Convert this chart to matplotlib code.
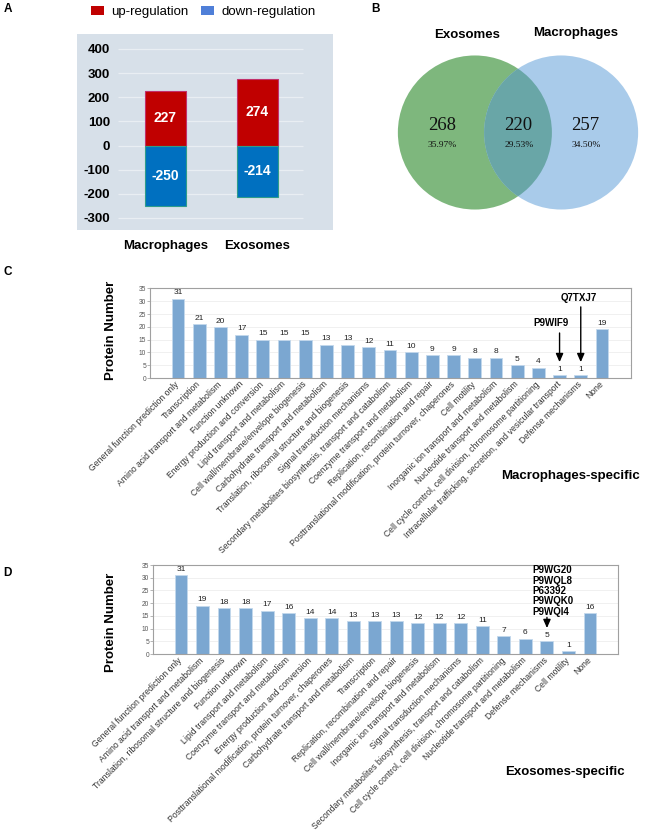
import matplotlib
matplotlib.use('Agg')
import matplotlib.pyplot as plt
from matplotlib.patches import Patch, Circle
import numpy as np

plt.rcParams['font.family'] = ['Liberation Sans', 'DejaVu Sans']

# ---------------- data ----------------
groups_a = ['Macrophages', 'Exosomes']
up_reg = [227, 274]
down_reg = [-250, -214]
yticks_a = [400, 300, 200, 100, 0, -100, -200, -300]

venn_names = ['Exosomes', 'Macrophages']
venn_counts = [268, 220, 257]   # Exosomes only, shared, Macrophages only

mac_categories = [
    'General function prediction only', 'Transcription',
    'Amino acid transport and metabolism', 'Function unknown',
    'Energy production and conversion', 'Lipid transport and metabolism',
    'Cell wall/membrane/envelope biogenesis', 'Carbohydrate transport and metabolism',
    'Translation, ribosomal structure and biogenesis', 'Signal transduction mechanisms',
    'Secondary metabolites biosynthesis, transport and catabolism',
    'Coenzyme transport and metabolism', 'Replication, recombination and repair',
    'Posttranslational modification, protein turnover, chaperones', 'Cell motility',
    'Inorganic ion transport and metabolism', 'Nucleotide transport and metabolism',
    'Cell cycle control, cell division, chromosome partitioning',
    'Intracellular trafficking, secretion, and vesicular transport',
    'Defense mechanisms', 'None']
mac_counts = [31, 21, 20, 17, 15, 15, 15, 13, 13, 12, 11, 10, 9, 9, 8, 8, 5, 4, 1, 1, 19]

exo_categories = [
    'General function prediction only', 'Amino acid transport and metabolism',
    'Translation, ribosomal structure and biogenesis', 'Function unknown',
    'Lipid transport and metabolism', 'Coenzyme transport and metabolism',
    'Energy production and conversion',
    'Posttranslational modification, protein turnover, chaperones',
    'Carbohydrate transport and metabolism', 'Transcription',
    'Replication, recombination and repair', 'Cell wall/membrane/envelope biogenesis',
    'Inorganic ion transport and metabolism', 'Signal transduction mechanisms',
    'Secondary metabolites biosynthesis, transport and catabolism',
    'Cell cycle control, cell division, chromosome partitioning',
    'Nucleotide transport and metabolism', 'Defense mechanisms', 'Cell motility', 'None']
exo_counts = [31, 19, 18, 18, 17, 16, 14, 14, 13, 13, 13, 12, 12, 12, 11, 7, 6, 5, 1, 16]
yticks_bar = [0, 5, 10, 15, 20, 25, 30, 35]

mac_annot = {'P9WIF9': 'Intracellular trafficking, secretion, and vesicular transport',
             'Q7TXJ7': 'Defense mechanisms'}
exo_annot_ids = ['P9WG20', 'P9WQL8', 'P63392', 'P9WQK0', 'P9WQI4']
exo_annot_cat = 'Defense mechanisms'

# ---------------- figure ----------------
W, H = 649, 830
fig = plt.figure(figsize=(W / 100, H / 100), dpi=100)
fig.patch.set_facecolor('white')


def ax_px(x0, y0, x1, y1):
    return fig.add_axes([x0 / W, 1 - y1 / H, (x1 - x0) / W, (y1 - y0) / H])


def ftext(x, y, s, **kw):
    return fig.text(x / W, 1 - y / H, s, **kw)


# panel letters
for letter, (lx, ly) in zip('ABCD', [(8, 9), (376, 9), (8, 272), (7, 573)]):
    ftext(lx, ly, letter, ha='center', va='center', fontsize=8.5, fontweight='bold')

# ---------------- Panel A ----------------
axA = ax_px(77, 34, 333, 230)
axA.set_facecolor('#d7e0e9')
xa = np.arange(len(groups_a))
axA.hlines(yticks_a, (118 - 77) / 256, (303 - 77) / 256, transform=axA.get_yaxis_transform(),
           color='#e9eef3', lw=0.9, zorder=1)
axA.bar(xa, up_reg, width=0.446, color='#c00000', edgecolor='#c2306a', lw=0.8, zorder=2)
axA.bar(xa, down_reg, width=0.446, color='#0070c0', edgecolor='#2f9c8a', lw=0.8, zorder=2)
for i in xa:
    axA.text(i, up_reg[i] / 2, str(up_reg[i]), ha='center', va='center', color='white',
             fontsize=10, fontweight='bold', zorder=3)
    axA.text(i, down_reg[i] / 2, str(down_reg[i]), ha='center', va='center', color='white',
             fontsize=10, fontweight='bold', zorder=3)
axA.set_xlim(-0.962, 1.821)
axA.set_ylim(-350, 462)
axA.set_yticks(yticks_a)
axA.set_yticklabels([str(v) for v in yticks_a], fontsize=9.5, fontweight='bold')
axA.tick_params(axis='y', length=0, pad=-23.8)
axA.set_xticks(xa)
axA.set_xticklabels(groups_a, fontsize=9.5, fontweight='bold')
axA.tick_params(axis='x', length=0, pad=7)
for s in axA.spines.values():
    s.set_visible(False)

fig.legend(handles=[Patch(facecolor='#c00000'), Patch(facecolor='#4f7fd8')],
           labels=['up-regulation', 'down-regulation'], loc='upper left',
           bbox_to_anchor=(91 / W, 1 - 6 / H), ncol=2, frameon=False, fontsize=9.5,
           handlelength=1.0, handleheight=0.6, handletextpad=0.55, columnspacing=0.95,
           borderpad=0, borderaxespad=0)

# ---------------- Panel B ----------------
axB = ax_px(388, 50, 648, 215)
axB.set_xlim(-1.688, 1.688)
axB.set_ylim(-1.071, 1.071)
axB.axis('off')
g = Circle((-0.56, 0), 1.0, facecolor='#7eb77d', edgecolor='none')
b = Circle((0.56, 0), 1.0, facecolor='#a9cbea', edgecolor='none')
axB.add_patch(g)
axB.add_patch(b)
ov = Circle((-0.56, 0), 1.0, facecolor='#69a6a7', edgecolor='none')
axB.add_patch(ov)
ov.set_clip_path(b)
total = sum(venn_counts)
for xpos, cnt in zip([-0.99, 0.0, 0.87], venn_counts):
    axB.text(xpos, 0.097, str(cnt), ha='center', va='center', fontsize=13.5,
             family='Liberation Serif', color='#111111')
    axB.text(xpos + 0.01, -0.162, '%.2f%%' % (cnt / total * 100), ha='center', va='center',
             fontsize=6.8, family='Liberation Serif', color='#111111')
ftext(467, 35, venn_names[0], ha='center', va='center', fontsize=9.5, fontweight='bold')
ftext(576, 33, venn_names[1], ha='center', va='center', fontsize=9.5, fontweight='bold')


# ---------------- Panels C, D ----------------
def bar_panel(ax, cats, counts, xlim):
    x = np.arange(len(cats))
    ax.set_axisbelow(True)
    ax.yaxis.grid(True, color='#eeeeee', lw=0.6)
    ax.bar(x, counts, width=0.6, color='#7ba7d1', edgecolor='#c3d8ec', lw=0.6)
    for i, v in zip(x, counts):
        ax.text(i, v + 0.9, str(v), ha='center', va='bottom', fontsize=6, color='#222222')
    ax.set_xlim(*xlim)
    ax.set_ylim(0, 35)
    ax.set_yticks(yticks_bar)
    ax.set_yticklabels([str(v) for v in yticks_bar], fontsize=4.8, color='#555555')
    ax.tick_params(axis='y', length=2, width=0.5, color='#999999', pad=0.8)
    ax.set_xticks(x)
    ax.set_xticklabels(cats, rotation=45, ha='right', va='center', rotation_mode='anchor',
                       fontsize=6.2, color='#333333')
    ax.tick_params(axis='x', length=0, pad=3.5)
    for s in ax.spines.values():
        s.set_color('#a0a0a0')
        s.set_linewidth(0.8)
    return x


axC = ax_px(150, 288.5, 631, 378)
bar_panel(axC, mac_categories, mac_counts, (-1.32, 21.37))
for name, dx, ytxt, ystart in [('P9WIF9', -0.4, 21.6, 17.6), ('Q7TXJ7', -0.1, 31.4, 27.8)]:
    idx = mac_categories.index(mac_annot[name])
    v = mac_counts[idx]
    axC.text(idx + dx, ytxt, name, ha='center', va='center', fontsize=7, fontweight='bold')
    axC.annotate('', xy=(idx, v + 5.2), xytext=(idx, ystart),
                 arrowprops=dict(arrowstyle='-|>,head_length=0.5,head_width=0.22',
                                 color='black', lw=1.0, shrinkA=0, shrinkB=0))
ftext(111, 330, 'Protein Number', rotation=90, ha='center', va='center', fontsize=9.5,
      fontweight='bold')
ftext(571, 476, 'Macrophages-specific', ha='center', va='center', fontsize=9.5,
      fontweight='bold')

axD = ax_px(153, 565, 618, 654)
bar_panel(axD, exo_categories, exo_counts, (-1.30, 20.3))
idx = exo_categories.index(exo_annot_cat)
v = exo_counts[idx]
axD.text(idx - 0.7, 34.9, '\n'.join(exo_annot_ids), ha='left', va='top', fontsize=7,
         fontweight='bold', linespacing=1.05)
axD.annotate('', xy=(idx, v + 5.2), xytext=(idx, v + 9.4),
             arrowprops=dict(arrowstyle='-|>,head_length=0.5,head_width=0.22',
                             color='black', lw=1.0, shrinkA=0, shrinkB=0))
ftext(111, 622, 'Protein Number', rotation=90, ha='center', va='center', fontsize=9.5,
      fontweight='bold')
ftext(565, 772, 'Exosomes-specific', ha='center', va='center', fontsize=9.5,
      fontweight='bold')

fig.savefig('out.png', dpi=100, facecolor='white')
